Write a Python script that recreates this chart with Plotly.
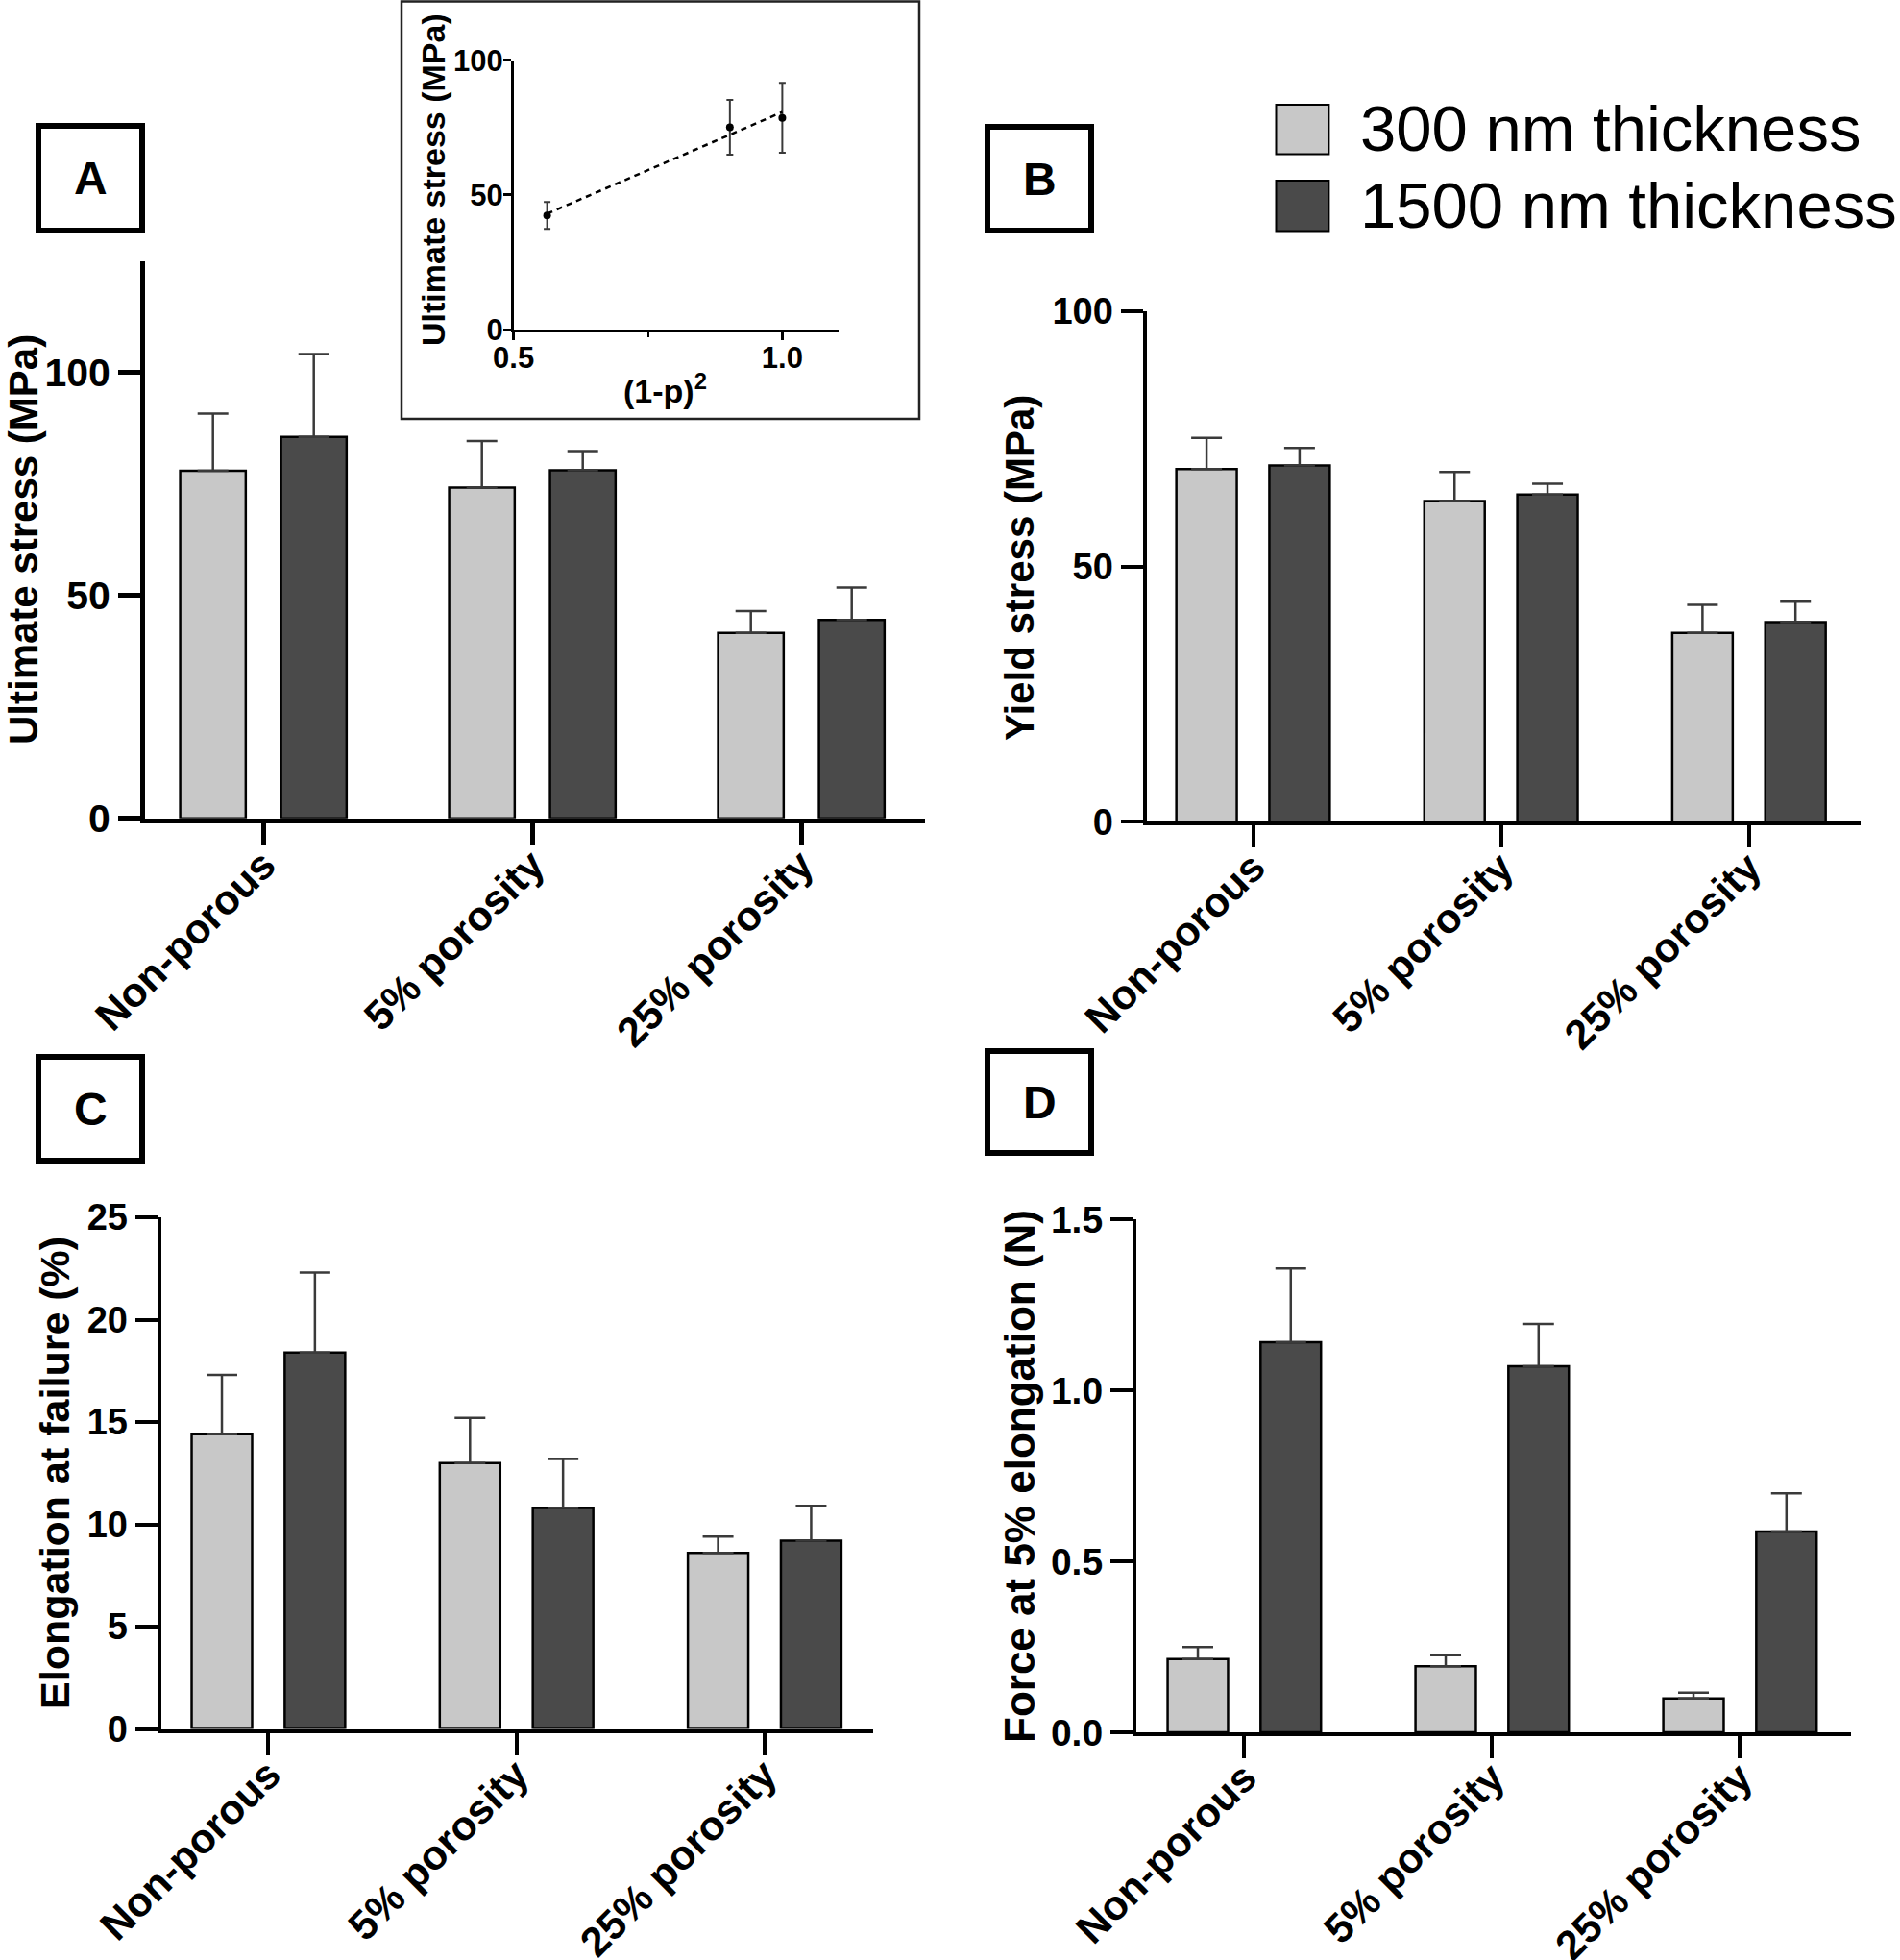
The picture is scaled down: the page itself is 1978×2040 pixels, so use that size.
import numpy as np
import plotly.graph_objects as go

W, H = 1978, 2040

categories = ["Non-porous", "5% porosity", "25% porosity"]
series_names = ["300 nm thickness", "1500 nm thickness"]

# Panel A: ultimate stress (MPa), mean and upper SD
ult_300 = [78.0, 74.2, 41.6]
ult_300_sd = [12.8, 10.5, 4.9]
ult_1500 = [85.6, 78.1, 44.5]
ult_1500_sd = [18.6, 4.3, 7.3]

# Panel B: yield stress (MPa)
yield_300 = [69.1, 62.8, 37.0]
yield_300_sd = [6.1, 5.7, 5.5]
yield_1500 = [69.8, 64.1, 39.1]
yield_1500_sd = [3.4, 2.1, 4.0]

# Panel C: elongation at failure (%)
elong_300 = [14.4, 13.0, 8.6]
elong_300_sd = [2.9, 2.2, 0.8]
elong_1500 = [18.4, 10.8, 9.2]
elong_1500_sd = [3.9, 2.4, 1.7]

# Panel D: force at 5% elongation (N)
force_300 = [0.214, 0.193, 0.099]
force_300_sd = [0.035, 0.032, 0.017]
force_1500 = [1.141, 1.071, 0.587]
force_1500_sd = [0.216, 0.124, 0.112]

# Inset: ultimate stress vs (1-p)^2
inset_x = [0.5625, 0.9025, 1.0]
inset_y = [42.4, 75.1, 78.6]
inset_sd = [5.0, 10.2, 13.0]

LIGHT = "#c8c8c8"
DARK = "#4a4a4a"
ERR = "#3a3a3a"
FONT = "Liberation Sans, Arial, sans-serif"


def fx(px):
    return px / W


def fy(py):
    return 1 - py / H


fig = go.Figure()

panels = [
    ("x", "y", ult_300, ult_300_sd, ult_1500, ult_1500_sd),
    ("x3", "y3", yield_300, yield_300_sd, yield_1500, yield_1500_sd),
    ("x4", "y4", elong_300, elong_300_sd, elong_1500, elong_1500_sd),
    ("x5", "y5", force_300, force_300_sd, force_1500, force_1500_sd),
]

for xa, ya, v1, e1, v2, e2 in panels:
    for vals, errs, col, name in ((v1, e1, LIGHT, series_names[0]), (v2, e2, DARK, series_names[1])):
        fig.add_trace(go.Bar(
            x=categories, y=vals, name=name, xaxis=xa, yaxis=ya,
            marker=dict(color=col, line=dict(color="black", width=2.5)),
            error_y=dict(type="data", symmetric=False, array=errs,
                         arrayminus=[0] * len(errs), color=ERR,
                         thickness=2.5, width=16),
            showlegend=False,
        ))

# inset scatter
fig.add_trace(go.Scatter(
    x=inset_x, y=inset_y, mode="markers", xaxis="x2", yaxis="y2",
    marker=dict(color="black", size=8),
    error_y=dict(type="data", array=inset_sd, color=ERR, thickness=2, width=3.5),
    showlegend=False,
))
slope, intercept = np.polyfit(inset_x, inset_y, 1)
fit_x = np.array([min(inset_x), max(inset_x)])
fig.add_trace(go.Scatter(
    x=fit_x, y=slope * fit_x + intercept, mode="lines", xaxis="x2", yaxis="y2",
    line=dict(color="black", width=2.5, dash="6px,5px"),
    showlegend=False,
))


def xcat(dom, rng, lw, fs, anchor):
    return dict(domain=dom, range=rng, type="category", showgrid=False, zeroline=False,
                showline=True, linecolor="black", linewidth=lw, automargin=False,
                ticks="outside", ticklen=23, tickwidth=lw, tickcolor="black",
                tickangle=-45, anchor=anchor, ticklabelstandoff=-22,
                tickfont=dict(family=FONT, size=fs, color="black", weight="bold"))


def yval(dom, rng, tickvals, ticktext, lw, fs, anchor):
    return dict(domain=dom, range=rng, showgrid=False, zeroline=False,
                showline=True, linecolor="black", linewidth=lw, automargin=False,
                tickmode="array", tickvals=tickvals, ticktext=ticktext,
                ticks="outside", ticklen=23, tickwidth=lw, tickcolor="black",
                tickfont=dict(family=FONT, size=fs, color="black", weight="bold"),
                anchor=anchor)


layout = dict(
    template="none",
    width=W, height=H, autosize=False,
    margin=dict(l=0, r=0, t=0, b=0, pad=0),
    paper_bgcolor="white", plot_bgcolor="white",
    barmode="group", bargap=0.25, bargroupgap=0.35,
    showlegend=False,
)

# Panel A
layout["xaxis"] = xcat([fx(151), fx(963)], [-0.44, 2.46], 5, 43, "y")
layout["yaxis"] = yval([fy(851.7), fy(272)], [0, 125], [0, 50, 100], ["0", "50", "100"], 5, 41, "x")

# Panel B
layout["xaxis3"] = xcat([fx(1193.5), fx(1936.7)], [-0.43, 2.449], 4, 43, "y3")
layout["yaxis3"] = yval([fy(855.2), fy(324)], [0, 100], [0, 50, 100], ["0", "50", "100"], 4, 38, "x3")

# Panel C
layout["xaxis4"] = xcat([fx(167.6), fx(909)], [-0.433, 2.4375], 4, 43, "y4")
layout["yaxis4"] = yval([fy(1799.5), fy(1267.1)], [0, 25], [0, 5, 10, 15, 20, 25],
                        ["0", "5", "10", "15", "20", "25"], 4, 38, "x4")

# Panel D
layout["xaxis5"] = xcat([fx(1182.9), fx(1927)], [-0.436, 2.448], 4, 43, "y5")
layout["yaxis5"] = yval([fy(1802.9), fy(1269.4)], [0, 1.5], [0, 0.5, 1.0, 1.5],
                        ["0.0", "0.5", "1.0", "1.5"], 4, 39, "x5")

# Inset
layout["xaxis2"] = dict(domain=[fx(534.6), fx(872.6)], range=[0.5, 1.104], anchor="y2",
                        showgrid=False, zeroline=False, showline=True, linecolor="black", linewidth=2.5,
                        automargin=False, ticklabelstandoff=-8,
                        tickmode="array", tickvals=[0.5, 1.0], ticktext=["0.5", "1.0"],
                        ticks="outside", ticklen=8, tickwidth=2.5, tickcolor="black",
                        minor=dict(tickmode="array", tickvals=[0.75], ticks="outside", ticklen=5,
                                   tickwidth=2, tickcolor="black"),
                        tickfont=dict(family=FONT, size=31, color="black", weight="bold"))
layout["yaxis2"] = dict(domain=[fy(343), fy(62.7)], range=[0, 100], anchor="x2",
                        showgrid=False, zeroline=False, showline=True, linecolor="black", linewidth=2.5,
                        automargin=False, ticklabelstandoff=-6,
                        tickmode="array", tickvals=[0, 50, 100], ticktext=["0", "50", "100"],
                        ticks="outside", ticklen=8, tickwidth=2.5, tickcolor="black",
                        tickfont=dict(family=FONT, size=31, color="black", weight="bold"))

shapes = []
annotations = []

# inset frame
shapes.append(dict(type="rect", xref="paper", yref="paper",
                   x0=fx(418), x1=fx(957), y0=fy(436), y1=fy(1.5),
                   line=dict(color="#222222", width=2.5), fillcolor="rgba(0,0,0,0)", layer="below"))

# panel letter boxes
letters = [("A", 40, 131, 148, 240), ("B", 1028, 132, 1136, 240),
           ("C", 40, 1100, 148, 1208), ("D", 1028, 1094, 1136, 1200)]
for lab, x0, y0, x1, y1 in letters:
    shapes.append(dict(type="rect", xref="paper", yref="paper",
                       x0=fx(x0), x1=fx(x1), y0=fy(y1), y1=fy(y0),
                       line=dict(color="black", width=6), fillcolor="white"))
    annotations.append(dict(text=lab, xref="paper", yref="paper",
                            x=fx((x0 + x1) / 2), y=fy((y0 + y1) / 2),
                            xanchor="center", yanchor="middle", showarrow=False,
                            font=dict(family=FONT, size=48, color="black", weight="bold")))

# axis titles
titles = [
    ("Ultimate stress (MPa)", 24, 562, 42),
    ("Yield stress (MPa)", 1061, 591, 42),
    ("Elongation at failure (%)", 57, 1533, 43),
    ("Force at 5% elongation (N)", 1061, 1537, 44),
    ("Ultimate stress (MPa)", 451, 187, 34),
]
for txt, cx, cy, fs in titles:
    annotations.append(dict(text=txt, xref="paper", yref="paper", x=fx(cx), y=fy(cy),
                            xanchor="center", yanchor="middle", textangle=-90, showarrow=False,
                            font=dict(family=FONT, size=fs, color="black", weight="bold")))
annotations.append(dict(text="(1-p)<sup>2</sup>", xref="paper", yref="paper", x=fx(692), y=fy(405),
                        xanchor="center", yanchor="middle", showarrow=False,
                        font=dict(family=FONT, size=34, color="black", weight="bold")))

# legend (drawn manually)
legend_rows = [(series_names[0], LIGHT, 109, 160.4), (series_names[1], DARK, 188, 240.4)]
for name, col, y0, y1 in legend_rows:
    shapes.append(dict(type="rect", xref="paper", yref="paper",
                       x0=fx(1328.5), x1=fx(1383.4), y0=fy(y1), y1=fy(y0),
                       line=dict(color="black", width=2), fillcolor=col))
    annotations.append(dict(text=name, xref="paper", yref="paper",
                            x=fx(1414), y=fy((y0 + y1) / 2 - 1),
                            xanchor="left", yanchor="middle", showarrow=False,
                            font=dict(family=FONT, size=67, color="black")))

layout["shapes"] = shapes
layout["annotations"] = annotations
fig.update_layout(**layout)

fig.write_html("out.html", config={"displayModeBar": False},
               post_script="document.body.style.margin='0';document.body.style.overflow='hidden';")
